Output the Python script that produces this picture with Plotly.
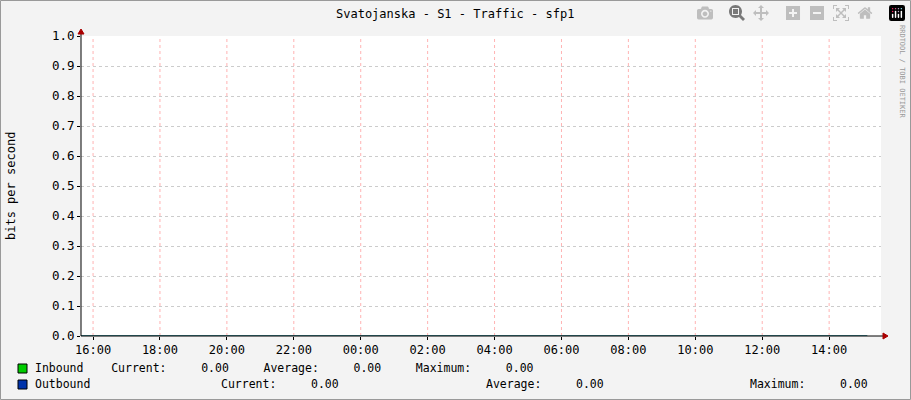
import plotly.graph_objects as go

hours = [15.64 + i * 0.5 for i in range(48)]
inbound = [0.0] * 48
outbound = [0.0] * 48
tick_vals = [16, 18, 20, 22, 24, 26, 28, 30, 32, 34, 36, 38]
tick_text = ["16:00", "18:00", "20:00", "22:00", "00:00", "02:00", "04:00", "06:00",
             "08:00", "10:00", "12:00", "14:00"]
y_ticks = [i / 10 for i in range(11)]

W, H = 911, 400
L, R, T, B = 81, 881, 36, 336
def px(x): return (x - L) / (R - L)
def py(y): return (B - y) / (B - T)

mono = "DejaVu Sans Mono"
fig = go.Figure()
fig.add_trace(go.Scatter(x=hours, y=inbound, mode="lines", line=dict(color="#00CC00", width=1), showlegend=False))
fig.add_trace(go.Scatter(x=hours, y=outbound, mode="lines", line=dict(color="#0033AA", width=1), showlegend=False))

shapes = []
for v in tick_vals:
    shapes.append(dict(type="line", xref="x", yref="paper", x0=v, x1=v, y0=0, y1=1,
                       line=dict(color="rgba(255,0,0,0.3)", width=1, dash="dot"), layer="below"))
shapes += [
    dict(type="line", xref="paper", yref="paper", x0=px(L), x1=px(886), y0=0, y1=0, line=dict(color="#000000", width=1)),
    dict(type="line", xref="paper", yref="paper", x0=0, x1=0, y0=0, y1=py(31), line=dict(color="#000000", width=1)),
    dict(type="path", xref="paper", yref="paper",
         path=f"M {px(883)} {py(333)} L {px(888)} {py(336)} L {px(883)} {py(339)} Z",
         fillcolor="#AA0000", line=dict(color="#AA0000", width=1)),
    dict(type="path", xref="paper", yref="paper",
         path=f"M {px(78)} {py(34)} L {px(81)} {py(29)} L {px(84)} {py(34)} Z",
         fillcolor="#AA0000", line=dict(color="#AA0000", width=1)),
    dict(type="rect", xref="paper", yref="paper", x0=px(18), x1=px(27), y0=py(373), y1=py(364),
         fillcolor="#00CC00", line=dict(color="#000000", width=1)),
    dict(type="rect", xref="paper", yref="paper", x0=px(18), x1=px(27), y0=py(389), y1=py(380),
         fillcolor="#0033AA", line=dict(color="#000000", width=1)),
    dict(type="rect", xref="paper", yref="paper", x0=px(0.5), x1=px(910.5), y0=py(0.5), y1=py(399.5),
         line=dict(color="#999999", width=1), layer="below"),
]

def txt(x, y, s, size=12, color="#000000", xanchor="left", angle=0):
    return dict(xref="paper", yref="paper", x=px(x), y=py(y), text=s, showarrow=False,
                font=dict(family=mono, size=size, color=color), xanchor=xanchor,
                yanchor="middle", textangle=angle)

ann = [
    txt(455, 14, "Svatojanska - S1 - Traffic - sfp1", 12, xanchor="center"),
    txt(11, 186, "bits per second", 12, xanchor="center", angle=-90),
    txt(902, 72, "RRDTOOL / TOBI OETIKER", 7, "#999999", xanchor="center", angle=90),
    txt(33, 368, "Inbound    Current:     0.00     Average:     0.00     Maximum:     0.00", 11.5),
    txt(33, 384, "Outbound", 11.5),
    txt(219, 384, "Current:     0.00", 11.5),
    txt(484, 384, "Average:     0.00", 11.5),
    txt(748, 384, "Maximum:     0.00", 11.5),
]

fig.update_layout(
    width=W, height=H, margin=dict(l=L, r=W - R, t=T, b=H - B),
    paper_bgcolor="#F3F3F3", plot_bgcolor="#FFFFFF",
    font=dict(family=mono, size=12, color="#000000"),
    xaxis=dict(range=[15.64, 39.55], tickvals=tick_vals, ticktext=tick_text, showgrid=False,
               zeroline=False, ticks="outside", ticklen=3, tickcolor="#000000", tickfont=dict(size=12)),
    yaxis=dict(range=[0, 1], tickvals=y_ticks, tickformat=".1f", showgrid=True,
               gridcolor="#CCCCCC", griddash="dot", gridwidth=1, zeroline=False,
               ticks="outside", ticklen=3, tickcolor="#000000", tickfont=dict(size=12.5)),
    shapes=shapes, annotations=ann, showlegend=False,
)
fig.write_html("out.html")
with open("out.html", "r", encoding="utf-8") as f:
    html = f.read()
html = html.replace("<head>", "<head><style>html,body{margin:0;padding:0;overflow:hidden;}</style>", 1)
with open("out.html", "w", encoding="utf-8") as f:
    f.write(html)
